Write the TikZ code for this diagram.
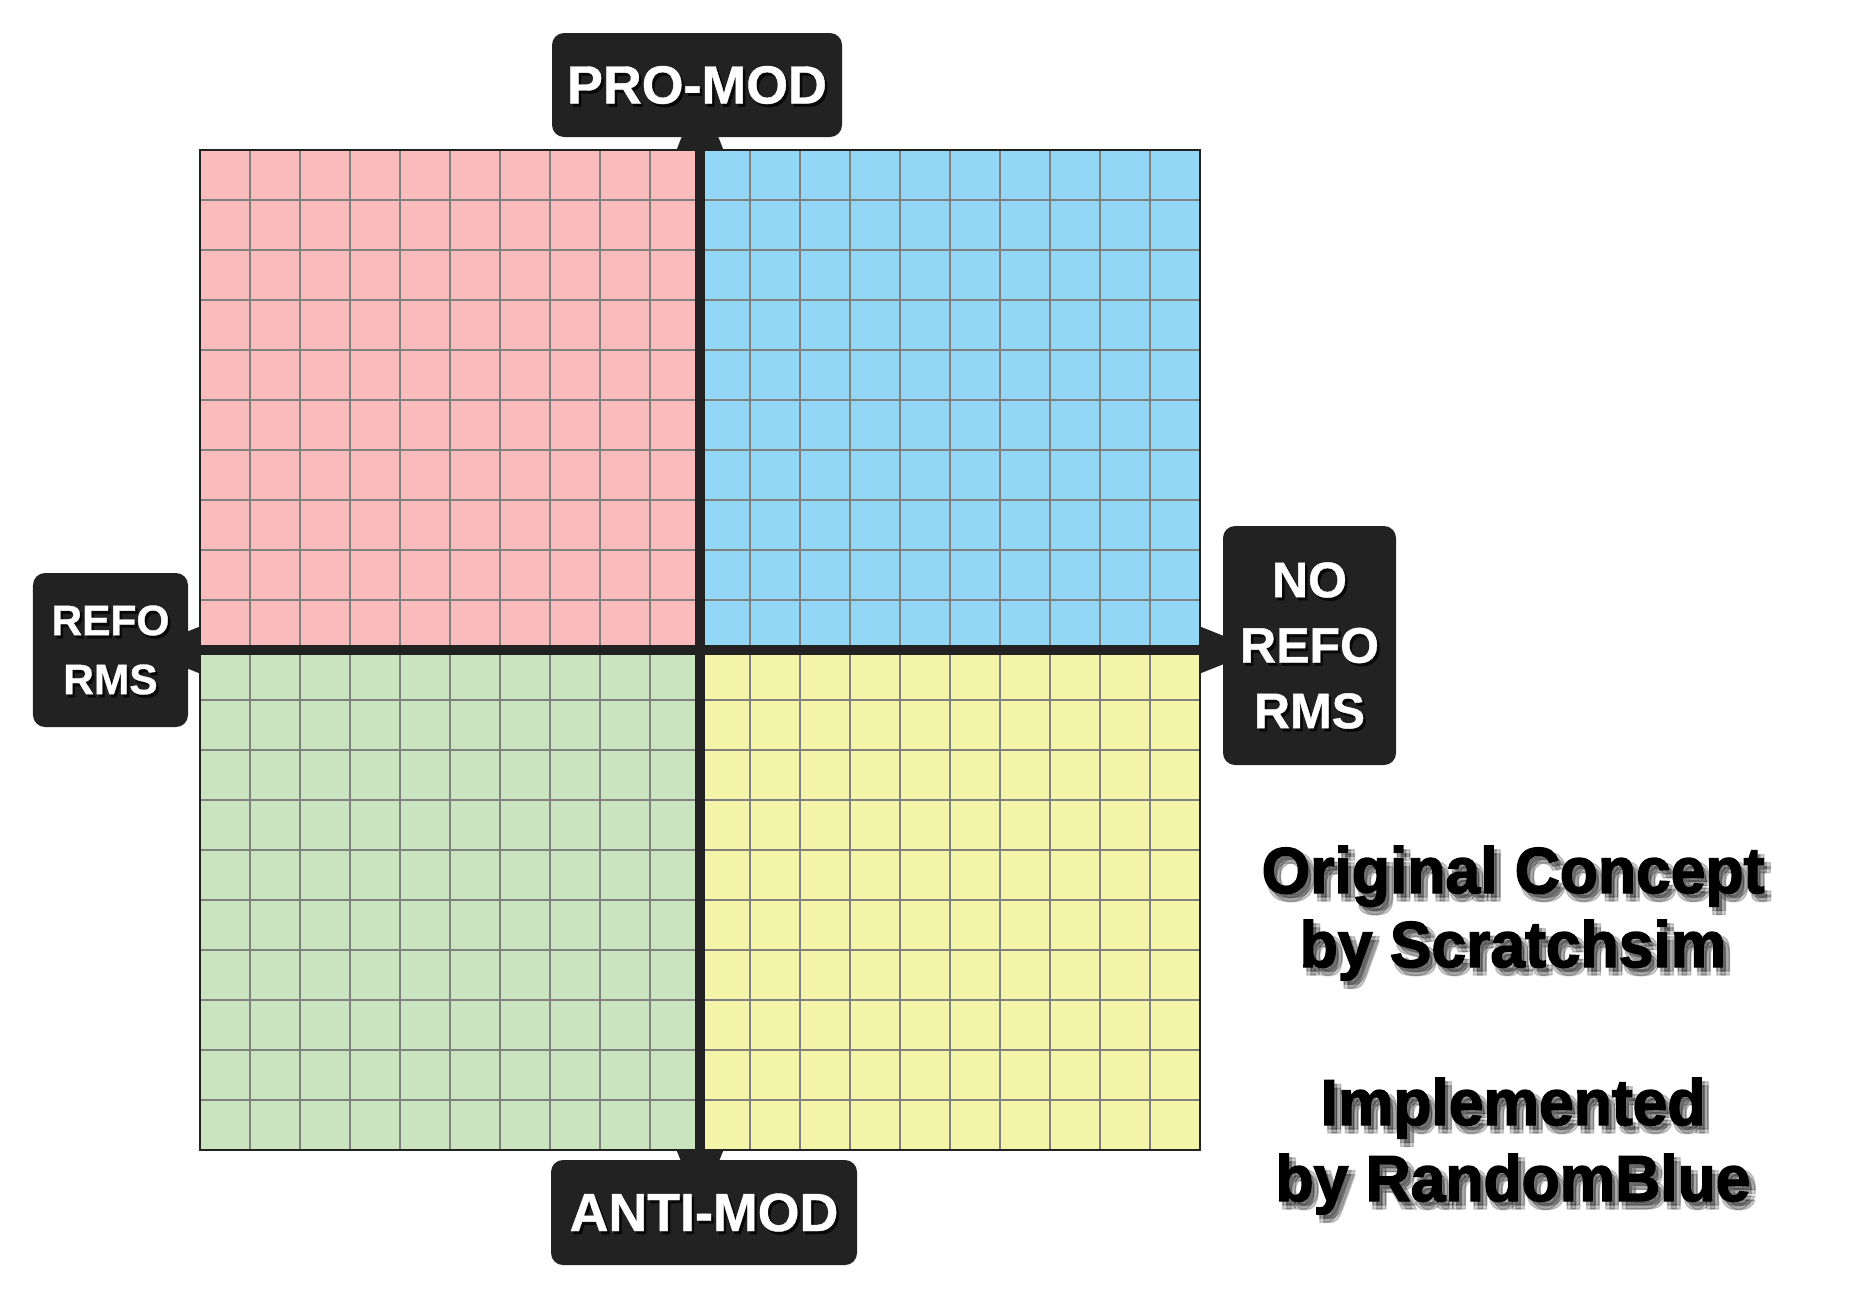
\documentclass[tikz,border=0pt]{standalone}
\usepackage{fontspec}
\setmainfont{Liberation Sans}
\newfontfamily\credfont{Liberation Sans Bold}[FakeStretch=0.96,FakeBold=2.2]
\newfontfamily\labfont{Liberation Sans Bold}[FakeBold=0.8]
\usetikzlibrary{arrows.meta}
\definecolor{dark}{RGB}{34,34,34}
\definecolor{qpink}{RGB}{249,187,187}
\definecolor{qblue}{RGB}{146,216,246}
\definecolor{qgreen}{RGB}{201,228,190}
\definecolor{qyellow}{RGB}{244,245,168}
\definecolor{gline}{RGB}{128,128,128}
\begin{document}
\begin{tikzpicture}[x=0.4pt,y=-0.4pt,
  labelbox/.style={fill=dark, rounded corners=4.8pt, inner sep=0pt, draw=none},
  labtext/.style={text=white, align=center, inner sep=0pt},
  labshadow/.style={labtext, text=black, opacity=0.75},
  bigfont/.style={font=\labfont\fontsize{21.5}{24}\selectfont},
  leftfont/.style={font=\labfont\fontsize{17}{23.6}\selectfont},
  rightfont/.style={font=\labfont\fontsize{20}{26.2}\selectfont},
  gridline/.style={draw=gline, line width=0.45pt},
  axis/.style={draw=dark, line width=4pt,
    {Triangle[width=17.6pt,length=24pt]}-{Triangle[width=17.6pt,length=24pt]}},
  credit/.style={anchor=base, inner sep=0pt, text=black, font=\credfont\fontsize{26}{30}\selectfont},
  creditshadow/.style={credit, opacity=0.18}
]
\useasboundingbox[fill=white] (0,0) rectangle (1850,1300);

% quadrants
\fill[qpink]   (200,150) rectangle (700,650);
\fill[qblue]   (700,150) rectangle (1200,650);
\fill[qgreen]  (200,650) rectangle (700,1150);
\fill[qyellow] (700,650) rectangle (1200,1150);

% grid
\foreach \i in {1,...,19} {
  \draw[gridline] (200+50*\i,150) -- (200+50*\i,1150);
  \draw[gridline] (200,150+50*\i) -- (1200,150+50*\i);
}
\draw[draw=dark, line width=0.6pt] (200,150) rectangle (1200,1150);

% axes
\coordinate (ntip) at (700,90);
\coordinate (stip) at (700,1210);
\coordinate (wtip) at (140,650);
\coordinate (etip) at (1260,650);
\draw[axis] (ntip) -- (stip);
\draw[axis] (wtip) -- (etip);

% label boxes
\node[labelbox, minimum width=116pt, minimum height=41.6pt] (promod) at (697,85) {};
\node[labelbox, minimum width=122.4pt, minimum height=42pt] (antimod) at (704,1212.5) {};
\node[labelbox, minimum width=62pt, minimum height=61.6pt] (reforms) at (110.5,650) {};
\node[labelbox, minimum width=69.2pt, minimum height=95.6pt] (noreforms) at (1309.5,645.5) {};

% label texts with shadows
\node[labshadow, bigfont] (promod-sh) at ([xshift=1pt,yshift=-1.2pt]promod.center) {PRO-MOD};
\node[labtext, bigfont] (promod-t) at (promod.center) {PRO-MOD};
\node[labshadow, bigfont] (antimod-sh) at ([xshift=1pt,yshift=-1.2pt]antimod.center) {ANTI-MOD};
\node[labtext, bigfont] (antimod-t) at (antimod.center) {ANTI-MOD};
\node[labshadow, leftfont] (reforms-sh) at ([xshift=1pt,yshift=-1.2pt]reforms.center) {REFO\\RMS};
\node[labtext, leftfont] (reforms-t) at (reforms.center) {REFO\\RMS};
\node[labshadow, rightfont] (noreforms-sh) at ([xshift=1pt,yshift=-1.2pt]noreforms.center) {NO\\REFO\\RMS};
\node[labtext, rightfont] (noreforms-t) at (noreforms.center) {NO\\REFO\\RMS};

% credits
\foreach \t/\y/\n in {Original Concept/893/c1, by Scratchsim/967/c2, Implemented/1125/c3, by RandomBlue/1201/c4} {
  \foreach \dx/\dy [count=\k] in {3/4,7/4,3/8,7/8} {
    \node[creditshadow] (\n-s\k) at (1513+\dx,\y+\dy) {\t};
  }
  \node[credit] (\n) at (1513,\y) {\t};
}
\end{tikzpicture}
\end{document}
